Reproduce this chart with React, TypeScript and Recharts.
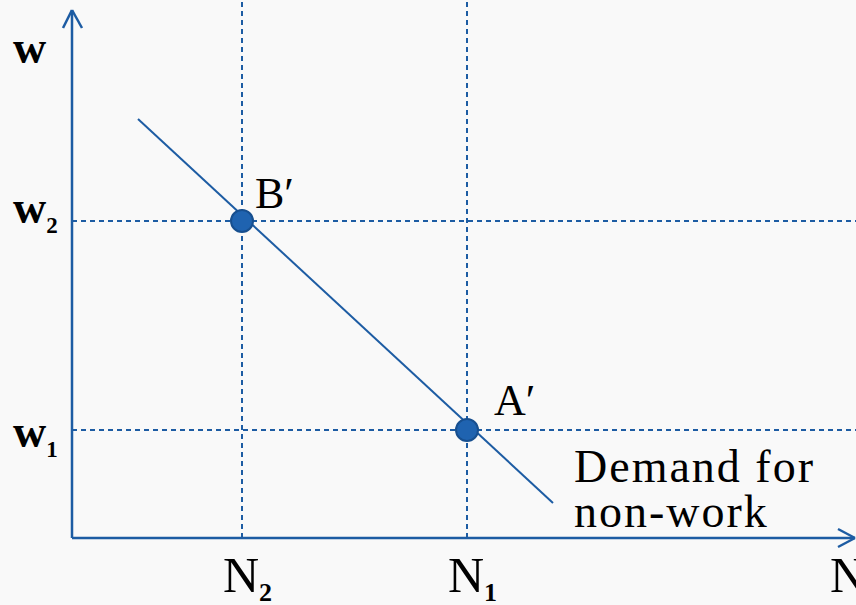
import React from 'react';
import { ComposedChart, XAxis, YAxis, Line, Scatter, ReferenceLine, ReferenceDot } from 'recharts';

// Domain units (abstract): N on x, w on y
const X_MAX = 7.84;
const Y_MAX = 5.38;

const N2 = 1.70;
const N1 = 3.95;
const W2 = 3.17;
const W1 = 1.08;

const demandLine = [
  { n: 0.66, w: 4.19 },
  { n: 4.81, w: 0.35 },
];

const points = [
  { n: N2, w: W2, name: 'B′' },
  { n: N1, w: W1, name: 'A′' },
];

const xTicks = [
  { value: N2, main: 'N', sub: '2' },
  { value: N1, main: 'N', sub: '1' },
  { value: 7.77, main: 'N', sub: '' },
];

const yTicks = [
  { value: 4.88, main: 'w', sub: '' },
  { value: W2, main: 'w', sub: '2' },
  { value: W1, main: 'w', sub: '1' },
];

const Y_AXIS_TOP = 5.28;
const X_AXIS_END = 7.83;

const curveLabel = ['Demand for', 'non-work'];

const BLUE = '#1d5ca3';
const FONT = '"Liberation Serif", "Times New Roman", serif';

const yLabelOffset: Record<string, number> = { '': 13, '2': 2, '1': 17 };
const pointLabelOffset: Record<string, [number, number]> = { 'B′': [13, -13], 'A′': [27, -15] };

const XTick = (props: any) => {
  const { x, y, payload } = props;
  const t = xTicks.find((d) => Math.abs(d.value - payload.value) < 1e-6);
  if (!t) return null;
  return (
    <text x={x - 19} y={y + 54} fontFamily={FONT} fontSize={50} fill="#000" textAnchor="start">
      {t.main}
      {t.sub && (
        <tspan fontSize={26} fontWeight="bold" dy={9}>
          {t.sub}
        </tspan>
      )}
    </text>
  );
};

const YTick = (props: any) => {
  const { x, y, payload } = props;
  const t = yTicks.find((d) => Math.abs(d.value - payload.value) < 1e-6);
  if (!t) return null;
  return (
    <text
      x={x - 59}
      y={y + yLabelOffset[t.sub]}
      fontFamily={FONT}
      fontSize={46}
      fontWeight="bold"
      fill="#000"
      textAnchor="start"
    >
      {t.main}
      {t.sub && (
        <tspan fontSize={23} dy={10}>
          {t.sub}
        </tspan>
      )}
    </text>
  );
};

const PointShape = (props: any) => {
  const { cx, cy, payload } = props;
  const off = pointLabelOffset[payload.name] || [13, -13];
  return (
    <g>
      <circle cx={cx} cy={cy} r={11} fill="#1f63b0" stroke="#174f8f" strokeWidth={2} />
      <text x={cx + off[0]} y={cy + off[1]} fontFamily={FONT} fontSize={44} fill="#000">
        {payload.name}
      </text>
    </g>
  );
};

const CurveLabel = (props: any) => {
  const { viewBox } = props;
  const x = viewBox.x + viewBox.width / 2 + 21;
  const y = viewBox.y + viewBox.height / 2;
  return (
    <text fontFamily={FONT} fontSize={46} fill="#000" letterSpacing={2}>
      <tspan x={x} y={y - 21}>{curveLabel[0]}</tspan>
      <tspan x={x} y={y + 24}>{curveLabel[1]}</tspan>
    </text>
  );
};

export default function App() {
  return (
    <div style={{ position: 'absolute', left: 0, top: 0, width: 856, height: 605, background: '#f9f9f9' }}>
      <ComposedChart width={856} height={605} margin={{ top: 0, right: 0, bottom: 0, left: 0 }}>
        <XAxis
          type="number"
          dataKey="n"
          domain={[0, X_MAX]}
          allowDataOverflow
          ticks={xTicks.map((t) => t.value)}
          tick={<XTick />}
          axisLine={false}
          tickLine={false}
          tickSize={0}
          tickMargin={0}
          height={67}
          interval={0}
        />
        <YAxis
          type="number"
          dataKey="w"
          domain={[0, Y_MAX]}
          allowDataOverflow
          ticks={yTicks.map((t) => t.value)}
          tick={<YTick />}
          axisLine={false}
          tickLine={false}
          tickSize={0}
          tickMargin={0}
          width={72}
          interval={0}
        />
        <ReferenceLine x={N2} stroke={BLUE} strokeWidth={2} strokeDasharray="5 4" />
        <ReferenceLine x={N1} stroke={BLUE} strokeWidth={2} strokeDasharray="5 4" />
        <ReferenceLine y={W2} stroke={BLUE} strokeWidth={2} strokeDasharray="5 4" />
        <ReferenceLine y={W1} stroke={BLUE} strokeWidth={2} strokeDasharray="5 4" />

        {/* axes with arrowheads */}
        <ReferenceLine segment={[{ x: 0, y: 0 }, { x: 0, y: Y_AXIS_TOP }]} stroke={BLUE} strokeWidth={2.5} ifOverflow="visible" />
        <ReferenceLine segment={[{ x: -0.09, y: Y_AXIS_TOP - 0.18 }, { x: 0, y: Y_AXIS_TOP }]} stroke={BLUE} strokeWidth={2.5} ifOverflow="visible" />
        <ReferenceLine segment={[{ x: 0.1, y: Y_AXIS_TOP - 0.18 }, { x: 0, y: Y_AXIS_TOP }]} stroke={BLUE} strokeWidth={2.5} ifOverflow="visible" />
        <ReferenceLine segment={[{ x: 0, y: 0 }, { x: X_AXIS_END, y: 0 }]} stroke={BLUE} strokeWidth={2.5} ifOverflow="visible" />
        <ReferenceLine segment={[{ x: X_AXIS_END - 0.17, y: 0.09 }, { x: X_AXIS_END, y: 0 }]} stroke={BLUE} strokeWidth={2.5} ifOverflow="visible" />
        <ReferenceLine segment={[{ x: X_AXIS_END - 0.17, y: -0.09 }, { x: X_AXIS_END, y: 0 }]} stroke={BLUE} strokeWidth={2.5} ifOverflow="visible" />

        <Line
          data={demandLine}
          dataKey="w"
          type="linear"
          stroke={BLUE}
          strokeWidth={2}
          dot={false}
          isAnimationActive={false}
        />
        <ReferenceDot
          x={demandLine[1].n}
          y={demandLine[1].w}
          r={0}
          fill="none"
          stroke="none"
          ifOverflow="visible"
          label={<CurveLabel />}
        />
        <Scatter data={points} dataKey="w" shape={<PointShape />} isAnimationActive={false} />
      </ComposedChart>
    </div>
  );
}
